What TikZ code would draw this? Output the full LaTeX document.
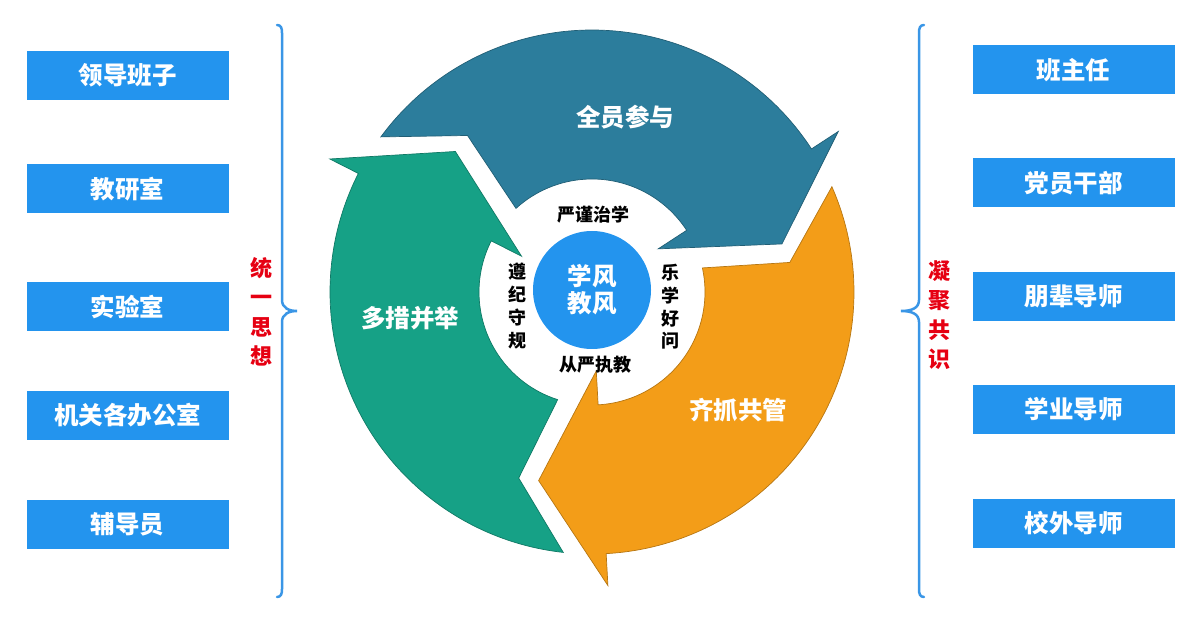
\documentclass[tikz,border=0pt]{standalone}
\usepackage{fontspec}
\newfontfamily\cjk{Noto Sans CJK SC}
\usetikzlibrary{positioning}
\definecolor{boxblue}{RGB}{35,148,238}
\definecolor{ringblue}{RGB}{44,125,156}
\definecolor{ringgreen}{RGB}{22,161,134}
\definecolor{ringorange}{RGB}{243,157,24}
\definecolor{braceblue}{RGB}{58,150,230}
\definecolor{headred}{RGB}{230,0,18}
\def\outr{262}
\def\inr{113}

% one arrow of the ring, turned by #1 degrees
\newcommand{\ringarrow}[2]{%
  \begin{scope}[shift={(592,330)}, rotate=#1]
    \filldraw[fill=#2, draw=#2!75!black, line width=0.7pt, line join=miter]
      (143.7:\outr) arc[start angle=143.7, end angle=33.1, radius=\outr]
      -- (33.1:294) -- (14.2:196) -- (33.1:79) -- (33.1:\inr)
      arc[start angle=33.1, end angle=132.3, radius=\inr]
      -- (128.5:200) -- cycle;
  \end{scope}}

\begin{document}
\begin{tikzpicture}[x=1pt, y=1pt]
    \tikzstyle{unit}=[rectangle, fill=boxblue, inner sep=0pt, minimum width=202pt, minimum height=49pt, text=white, font=\cjk\bfseries\fontsize{24.5}{24.5}\selectfont]
    \tikzstyle{ring label}=[text=white, font=\cjk\bfseries\fontsize{24.5}{24.5}\selectfont]
    \tikzstyle{motto}=[align=center, font=\cjk\bfseries\fontsize{18}{22.7}\selectfont]
    \tikzstyle{slogan}=[text=headred, align=center, font=\cjk\bfseries\fontsize{22}{29.5}\selectfont]
    \tikzstyle{curly}=[draw=braceblue, line width=2.5pt, line cap=round]

    \useasboundingbox (0,0) rectangle (1200,622);

    \ringarrow{0}{ringblue}
    \ringarrow{-120}{ringorange}
    \ringarrow{120}{ringgreen}

    \node[circle, fill=boxblue, minimum size=118pt, inner sep=0pt, text=white, align=center, font=\cjk\bfseries\fontsize{24.5}{27}\selectfont] (core) at (592,332) {学风\\教风};

    \node[motto] (strict) at (593,407) {严谨治学};
    \node[motto] (teach) at (595,257) {从严执教};
    \node[motto] (rules) at (517,316) {遵\\纪\\守\\规};
    \node[motto] (eager) at (670,315) {乐\\学\\好\\问};

    \node[ring label] (allin) at (625,505) {全员参与};
    \node[ring label] (multi) at (410,304) {多措并举};
    \node[ring label] (joint) at (738,212) {齐抓共管};

    % left column
    \node[unit] (lead) at (127.5,546.5) {领导班子};
    \node[unit] (research) at (127.5,433) {教研室};
    \node[unit] (lab) at (127.5,315.5) {实验室};
    \node[unit] (office) at (127.5,206.5) {机关各办公室};
    \node[unit] (counsel) at (127.5,97.5) {辅导员};

    % right column
    \node[unit] (adviser) at (1073.5,552) {班主任};
    \node[unit] (party) at (1073.5,439) {党员干部};
    \node[unit] (peer) at (1073.5,325.5) {朋辈导师};
    \node[unit] (tutor) at (1073.5,212.5) {学业导师};
    \node[unit] (mentor) at (1073.5,99) {校外导师};

    \node[slogan] (unify) at (261,310) {统\\一\\思\\想};
    \node[slogan] (gather) at (939,307) {凝\\聚\\共\\识};

    % braces
    \draw[curly] (277,597) .. controls (281,597) and (282,594) .. (282,589) -- (282,322)
        .. controls (282,314) and (289,311) .. (297,311)
        .. controls (289,311) and (282,308) .. (282,300) -- (282,33)
        .. controls (282,28) and (281,25) .. (277,25);
    \draw[curly] (924,597) .. controls (920,597) and (919,594) .. (919,589) -- (919,322)
        .. controls (919,314) and (912,311) .. (901,311)
        .. controls (912,311) and (919,308) .. (919,300) -- (919,33)
        .. controls (919,28) and (920,25) .. (924,25);
\end{tikzpicture}
\end{document}
